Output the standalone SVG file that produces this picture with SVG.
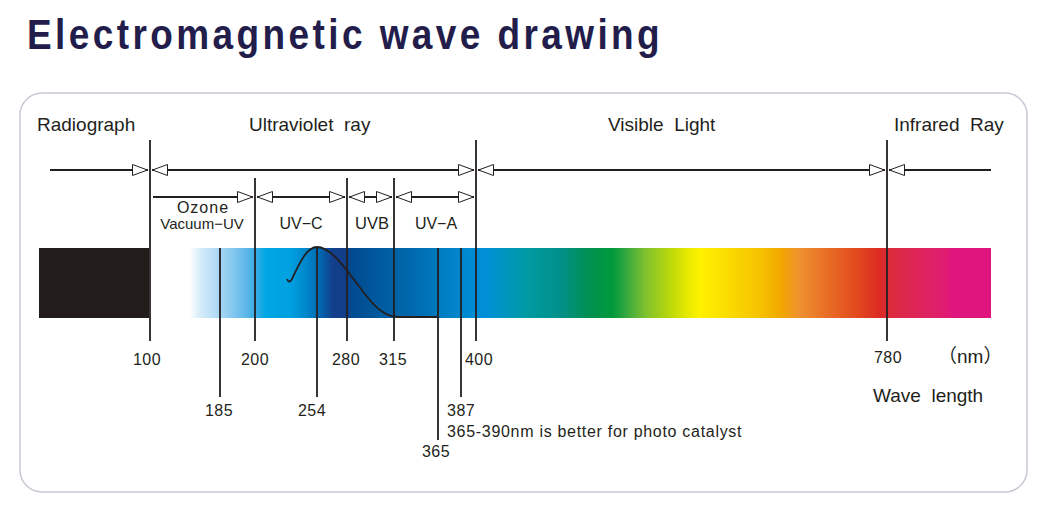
<svg xmlns="http://www.w3.org/2000/svg" width="1061" height="526" viewBox="0 0 1061 526">
  <style>
    .ln { stroke: #231f20; stroke-width: 1.8; fill: none; }
    .lbl { font-family: "Liberation Sans", Arial, sans-serif; fill: #231f20; }
    .big { font-size: 19px; }
    .num { font-size: 16px; }
  </style>
  <defs>
    <marker id="ah" viewBox="0 0 16 12" refX="16" refY="6" markerWidth="16" markerHeight="12" markerUnits="userSpaceOnUse" orient="auto-start-reverse">
      <path d="M0.5,0.5 L15.5,6 L0.5,11.5 Z" fill="#ffffff" stroke="#231f20" stroke-width="1"/>
    </marker>
    <linearGradient id="spec" gradientUnits="userSpaceOnUse" x1="190" y1="0" x2="991" y2="0">
      <stop offset="0" stop-color="#ffffff"/>
      <stop offset="0.0125" stop-color="#d6ecfa"/>
      <stop offset="0.031" stop-color="#b5dcf5"/>
      <stop offset="0.05" stop-color="#8ccbf0"/>
      <stop offset="0.069" stop-color="#60b8ea"/>
      <stop offset="0.085" stop-color="#2eaae5"/>
      <stop offset="0.094" stop-color="#00a7e4"/>
      <stop offset="0.125" stop-color="#00a0e0"/>
      <stop offset="0.144" stop-color="#0088cc"/>
      <stop offset="0.162" stop-color="#0068b0"/>
      <stop offset="0.178" stop-color="#133f8c"/>
      <stop offset="0.193" stop-color="#123d88"/>
      <stop offset="0.202" stop-color="#004a90"/>
      <stop offset="0.237" stop-color="#005a9e"/>
      <stop offset="0.275" stop-color="#0068ad"/>
      <stop offset="0.312" stop-color="#007cc0"/>
      <stop offset="0.350" stop-color="#008bd2"/>
      <stop offset="0.368" stop-color="#008fd8"/>
      <stop offset="0.400" stop-color="#0096b8"/>
      <stop offset="0.424" stop-color="#009aa0"/>
      <stop offset="0.462" stop-color="#00908a"/>
      <stop offset="0.499" stop-color="#009050"/>
      <stop offset="0.527" stop-color="#009a3c"/>
      <stop offset="0.543" stop-color="#30a640"/>
      <stop offset="0.568" stop-color="#7ec030"/>
      <stop offset="0.597" stop-color="#b6d60c"/>
      <stop offset="0.622" stop-color="#e8ea00"/>
      <stop offset="0.637" stop-color="#fff200"/>
      <stop offset="0.674" stop-color="#fada00"/>
      <stop offset="0.712" stop-color="#f6c200"/>
      <stop offset="0.737" stop-color="#f2a800"/>
      <stop offset="0.762" stop-color="#ee9030"/>
      <stop offset="0.799" stop-color="#e86a24"/>
      <stop offset="0.836" stop-color="#e2461e"/>
      <stop offset="0.861" stop-color="#dc2a24"/>
      <stop offset="0.880" stop-color="#dc2a44"/>
      <stop offset="0.924" stop-color="#de2264"/>
      <stop offset="0.946" stop-color="#df1b74"/>
      <stop offset="0.951" stop-color="#e0167e"/>
      <stop offset="1" stop-color="#e0147e"/>
    </linearGradient>
  </defs>

  <rect width="1061" height="526" fill="#ffffff"/>

  <g id="title">
    <text transform="translate(27,49) scale(0.88,1)" font-family="'Liberation Sans', Arial, sans-serif" font-weight="bold" font-size="42" letter-spacing="3.9" fill="#221d4b">Electromagnetic wave drawing</text>
  </g>

  <g id="frame">
    <rect x="20" y="93" width="1007" height="399" rx="22" ry="22" fill="none" stroke="#c9c8d2" stroke-width="1.5"/>
  </g>

  <g id="spectrum">
    <rect x="39" y="248" width="110" height="70" fill="#221d1a"/>
    <rect x="190" y="248" width="801" height="70" fill="url(#spec)"/>
  </g>

  <g id="region-labels" class="lbl big">
    <text x="37" y="131">Radiograph</text>
    <text x="249" y="131" xml:space="preserve">Ultraviolet  ray</text>
    <text x="608" y="131" xml:space="preserve">Visible  Light</text>
    <text x="894" y="131" xml:space="preserve">Infrared  Ray</text>
  </g>

  <g id="band-labels" class="lbl">
    <text x="203" y="213" font-size="16" letter-spacing="1" text-anchor="middle">Ozone</text>
    <text x="202" y="229" font-size="15" text-anchor="middle">Vacuum−UV</text>
    <text x="301" y="229" font-size="16" text-anchor="middle">UV−C</text>
    <text x="372" y="229" font-size="16.5" text-anchor="middle">UVB</text>
    <text x="436" y="229" font-size="16" text-anchor="middle">UV−A</text>
  </g>

  <g id="connectors">
    <line class="ln" x1="150" y1="140" x2="150" y2="341"/>
    <line class="ln" x1="476" y1="140" x2="476" y2="341"/>
    <line class="ln" x1="887" y1="140" x2="887" y2="341"/>
    <line class="ln" x1="255" y1="178" x2="255" y2="341"/>
    <line class="ln" x1="347" y1="178" x2="347" y2="341"/>
    <line class="ln" x1="394" y1="178" x2="394" y2="341"/>
    <line class="ln" x1="220" y1="248" x2="220" y2="397"/>
    <line class="ln" x1="317" y1="248" x2="317" y2="397"/>
    <line class="ln" x1="438" y1="248" x2="438" y2="440"/>
    <line class="ln" x1="461" y1="248" x2="461" y2="397"/>

    <line class="ln" x1="50" y1="170" x2="148" y2="170" marker-end="url(#ah)"/>
    <line class="ln" x1="152" y1="170" x2="474" y2="170" marker-start="url(#ah)" marker-end="url(#ah)"/>
    <line class="ln" x1="478" y1="170" x2="885" y2="170" marker-start="url(#ah)" marker-end="url(#ah)"/>
    <line class="ln" x1="889" y1="170" x2="991" y2="170" marker-start="url(#ah)"/>

    <line class="ln" x1="153" y1="197" x2="253" y2="197" marker-end="url(#ah)"/>
    <line class="ln" x1="257" y1="197" x2="345" y2="197" marker-start="url(#ah)" marker-end="url(#ah)"/>
    <line class="ln" x1="349" y1="197" x2="392" y2="197" marker-start="url(#ah)" marker-end="url(#ah)"/>
    <line class="ln" x1="396" y1="197" x2="474" y2="197" marker-start="url(#ah)" marker-end="url(#ah)"/>

    <path class="ln" d="M287 279 Q289 284 292 279 C300 262 307 247 317 247 C330 247 344 266 358 285 C372 304 383 317 398 317 L437 317"/>
  </g>

  <g id="tick-labels" class="lbl num">
    <text x="147" y="365" text-anchor="middle" letter-spacing="0.5">100</text>
    <text x="255" y="365" text-anchor="middle" letter-spacing="0.5">200</text>
    <text x="346" y="365" text-anchor="middle" letter-spacing="0.5">280</text>
    <text x="393" y="365" text-anchor="middle" letter-spacing="0.5">315</text>
    <text x="479" y="365" text-anchor="middle" letter-spacing="0.5">400</text>
    <text x="888" y="363" text-anchor="middle" letter-spacing="0.5">780</text>
    <text x="219" y="416" text-anchor="middle" letter-spacing="0.5">185</text>
    <text x="312" y="416" text-anchor="middle" letter-spacing="0.5">254</text>
    <text x="447" y="416" letter-spacing="0.5">387</text>
    <text x="447" y="437" letter-spacing="0.7">365-390nm is better for photo catalyst</text>
    <text x="436" y="457" text-anchor="middle" letter-spacing="0.5">365</text>
  </g>

  <g id="unit-labels" class="lbl big">
    <text x="938" y="363" font-family="'Liberation Sans', 'Noto Sans CJK SC', sans-serif">（nm）</text>
    <text x="873" y="402" xml:space="preserve">Wave  length</text>
  </g>
</svg>
